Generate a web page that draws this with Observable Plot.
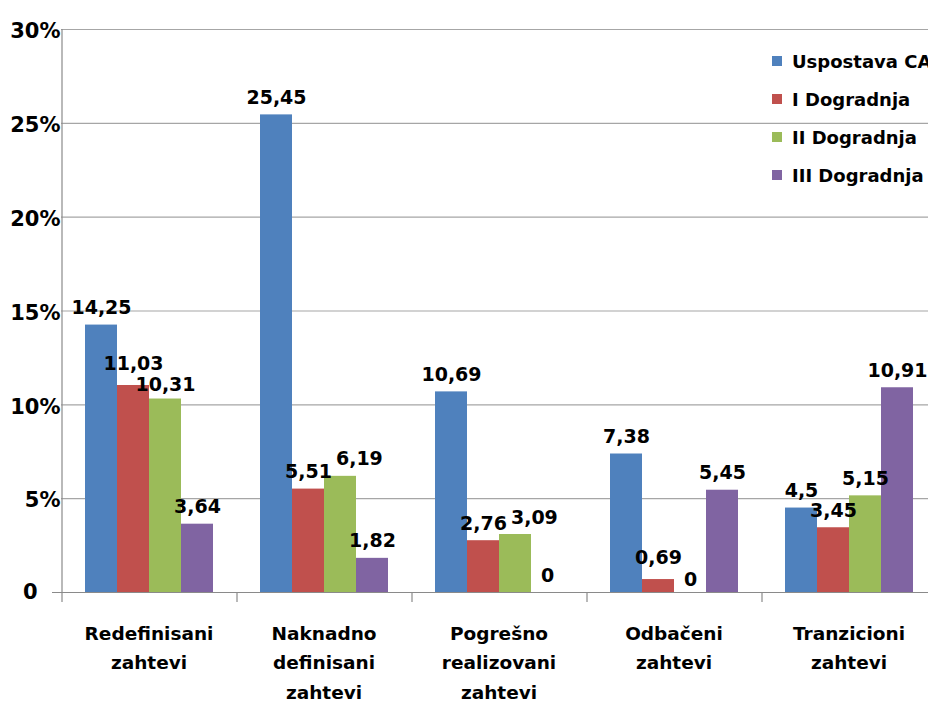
<!DOCTYPE html>
<html>
<head>
<meta charset="utf-8">
<script src="https://cdn.jsdelivr.net/npm/d3@7"></script>
<script src="https://cdn.jsdelivr.net/npm/@observablehq/plot@0.6"></script>
<style>
  html, body { margin: 0; padding: 0; background: #fff; overflow: hidden; }
  #wrap { position: relative; width: 928px; height: 702px; overflow: hidden; }
  #wrap svg { max-width: none; }
  #wrap svg text { font-weight: bold; }
  .legend { position: absolute; left: 772px; top: 42px; font-family: "DejaVu Sans", sans-serif;
            font-weight: bold; font-size: 18px; color: #000; white-space: nowrap; }
  .legend .row { height: 38px; display: flex; align-items: center; }
  .legend .sw { display: inline-block; width: 10px; height: 10px; margin-right: 10px; flex: none; }
</style>
</head>
<body>
<div id="wrap"></div>
<script>
// Request categories (multi-line labels) and release series
const categories = [
  "Redefinisani\nzahtevi",
  "Naknadno\ndefinisani\nzahtevi",
  "Pogrešno\nrealizovani\nzahtevi",
  "Odbačeni\nzahtevi",
  "Tranzicioni\nzahtevi"
];
const series = ["Uspostava CA", "I Dogradnja", "II Dogradnja", "III Dogradnja"];

// Share of requests per category (%), one array per series
const uspostavaCA  = [14.25, 25.45, 10.69, 7.38, 4.5];
const iDogradnja   = [11.03, 5.51, 2.76, 0.69, 3.45];
const iiDogradnja  = [10.31, 6.19, 3.09, 0, 5.15];
const iiiDogradnja = [3.64, 1.82, 0, 5.45, 10.91];

const colors = ["#4F81BD", "#C0504D", "#9BBB59", "#8064A2"];
const yTicks = [5, 10, 15, 20, 25, 30];

const seriesValues = [uspostavaCA, iDogradnja, iiDogradnja, iiiDogradnja];
const rows = categories.flatMap((category, i) =>
  series.map((s, j) => ({category, series: s, value: seriesValues[j][i]}))
);

const fmt = (v) => String(v).replace(".", ",");

// Layout
const width = 936, height = 702;
const marginLeft = 61, marginRight = 0, marginTop = 29, marginBottom = 110;
const facetWidth = (width - marginLeft - marginRight) / categories.length;
const barWidth = 32;
const padOuter = (facetWidth / barWidth - series.length) / 2;
const step = facetWidth / (series.length + 2 * padOuter);
const edgeOffset = padOuter * step + step / 2; // from first band centre to facet edge
const plotHeight = height - marginTop - marginBottom;

const labelSize = 19;
const labelDy = -11;

const axisColor = "#8a8a8a";
const gridColor = "#a6a6a6";

const chart = Plot.plot({
  width, height, marginLeft, marginRight, marginTop, marginBottom,
  style: {fontFamily: "DejaVu Sans, sans-serif", fontWeight: "bold", color: "#000", background: "#fff"},
  fx: {domain: categories, padding: 0, axis: null},
  x: {domain: series, paddingInner: 0, paddingOuter: padOuter, axis: null},
  y: {domain: [0, 30], axis: null},
  color: {domain: series, range: colors},
  marks: [
    Plot.ruleY(yTicks, {stroke: gridColor, strokeWidth: 1.2}),
    Plot.ruleY([0], {stroke: axisColor, strokeWidth: 1.2}),
    Plot.barY(rows, {fx: "category", x: "series", y: "value", fill: "series"}),
    // vertical value axis along the first group's left edge
    Plot.ruleX([categories[0]], {fx: (d) => d, x: () => series[0], dx: -edgeOffset,
      insetBottom: -10, stroke: axisColor, strokeWidth: 1.2}),
    // separators between groups below the baseline
    Plot.ruleX(categories.slice(1), {fx: (d) => d, x: () => series[0], dx: -edgeOffset,
      insetTop: plotHeight, insetBottom: -10, stroke: axisColor, strokeWidth: 1.2}),
    Plot.text(rows, {fx: "category", x: "series", y: "value", text: (d) => fmt(d.value),
      lineAnchor: "bottom", dy: labelDy, fontSize: labelSize, fill: "#000"}),
    Plot.axisY({ticks: yTicks, tickSize: 0, tickPadding: 1, tickFormat: (d) => d + "%",
      fontSize: 21, dy: 2, label: null}),
    Plot.axisY({ticks: [0], tickSize: 9, tickPadding: 15, tickFormat: () => "0",
      fontSize: 21, stroke: axisColor, label: null}),
    Plot.axisFx({anchor: "bottom", tickSize: 0, tickPadding: 27, lineHeight: 1.58,
      fontSize: 18.5, label: null})
  ]
});

const wrap = document.getElementById("wrap");
wrap.appendChild(chart);

// Resolve collisions between value labels of the same group: labels that only graze
// each other are pulled apart vertically, larger overlaps push the later label right.
(function nudgeLabels() {
  const y = chart.scale("y");
  const texts = [];
  chart.querySelectorAll('g[aria-label="text"]').forEach((g) => texts.push(...g.querySelectorAll("text")));
  if (texts.length !== rows.length) return;
  const digitHeight = 0.73 * labelSize;
  const gap = 4;
  const move = (t, dx, dy) =>
    t.setAttribute("transform", (t.getAttribute("transform") || "") + ` translate(${dx},${dy})`);
  for (let i = 0; i < categories.length; ++i) {
    const placed = [];
    for (let j = 0; j < series.length; ++j) {
      const t = texts[i * series.length + j];
      const d = rows[i * series.length + j];
      let base = y.apply(d.value) + labelDy;
      const r = t.getBoundingClientRect();
      let left = r.left, right = r.right, shiftX = 0, shiftY = 0;
      for (const p of placed) {
        const vOverlap = Math.min(base, p.base) - Math.max(base - digitHeight, p.base - digitHeight);
        const hOverlap = left < p.right + gap && right > p.left;
        if (vOverlap > 0 && hOverlap) {
          if (vOverlap <= 1) {
            const need = vOverlap + 8;
            const up = Math.round(need * 0.6), down = Math.round(need * 0.4);
            move(p.t, 0, -up);
            p.base -= up;
            shiftY += down; base += down;
          } else {
            const s = p.right + gap - left;
            shiftX += s; left += s; right += s;
          }
        }
      }
      if (shiftX || shiftY) move(t, shiftX, shiftY);
      placed.push({t, left, right, base});
    }
  }
})();

// Legend
const legend = document.createElement("div");
legend.className = "legend";
series.forEach((s, i) => {
  const row = document.createElement("div");
  row.className = "row";
  const sw = document.createElement("span");
  sw.className = "sw";
  sw.style.background = colors[i];
  row.appendChild(sw);
  row.appendChild(document.createTextNode(s));
  legend.appendChild(row);
});
wrap.appendChild(legend);
</script>
</body>
</html>
